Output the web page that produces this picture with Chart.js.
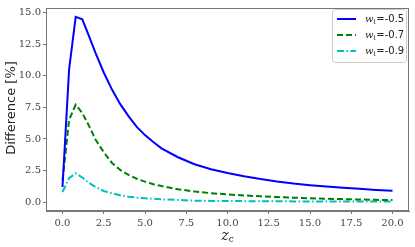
<!DOCTYPE html>
<html><head><meta charset="utf-8">
<script src="https://cdn.jsdelivr.net/npm/chart.js@4/dist/chart.umd.min.js"></script>
<style>html,body{margin:0;padding:0;background:#fff}canvas{display:block}</style>
</head><body>
<canvas id="c" width="415" height="247"></canvas>
<script>
const zc = [0,0.4,0.8,1.2,1.6,2,2.5,3,3.5,4,4.5,5,5.5,6,7,8,9,10,11,12,13,14,15,16,17,18,19,20];
const diffW05 = [1.2,10.5,14.65,14.45,13.15,11.8,10.25,8.9,7.75,6.8,5.95,5.3,4.75,4.25,3.55,3.0,2.6,2.3,2.05,1.83,1.63,1.47,1.34,1.23,1.13,1.05,0.97,0.91];
const diffW07 = [1.7,6.5,7.7,7.05,6.05,4.95,3.95,3.1,2.55,2.15,1.85,1.62,1.42,1.27,1.02,0.84,0.71,0.61,0.53,0.46,0.4,0.35,0.31,0.27,0.24,0.21,0.18,0.16];
const diffW09 = [0.8,1.9,2.28,1.95,1.52,1.2,0.88,0.7,0.55,0.43,0.36,0.31,0.27,0.22,0.17,0.12,0.1,0.09,0.08,0.07,0.065,0.06,0.06,0.055,0.055,0.05,0.05,0.05];
const seriesLabels = ["-0.5","-0.7","-0.9"];
const xTicks = [0,2.5,5,7.5,10,12.5,15,17.5,20];
const yTicks = [0,2.5,5,7.5,10,12.5,15];

const pts = v => zc.map((x,i)=>({x:x,y:v[i]}));
const datasets = [
  {label:seriesLabels[0], data:pts(diffW05), borderColor:'#0000ff', borderWidth:2, borderDash:[]},
  {label:seriesLabels[1], data:pts(diffW07), borderColor:'#008000', borderWidth:2, borderDash:[6,3]},
  {label:seriesLabels[2], data:pts(diffW09), borderColor:'#00bfbf', borderWidth:2, borderDash:[7,2.5,1.5,2.5]}
].map(d=>Object.assign(d,{pointRadius:0, fill:false, tension:0, borderJoinStyle:'miter'}));

const deco = {
  id:'deco',
  afterDraw(chart){
    const ctx = chart.ctx, a = chart.chartArea;
    ctx.save();
    ctx.strokeStyle = '#777'; ctx.lineWidth = 1;
    ctx.strokeRect(a.left+0.5, a.top+0.5, a.right-a.left-1, a.bottom-a.top-1);
    // legend
    const lx=332.5, ly=9.5, lw=74, lh=53;
    ctx.beginPath();
    const r=3;
    ctx.moveTo(lx+r,ly); ctx.lineTo(lx+lw-r,ly); ctx.quadraticCurveTo(lx+lw,ly,lx+lw,ly+r);
    ctx.lineTo(lx+lw,ly+lh-r); ctx.quadraticCurveTo(lx+lw,ly+lh,lx+lw-r,ly+lh);
    ctx.lineTo(lx+r,ly+lh); ctx.quadraticCurveTo(lx,ly+lh,lx,ly+lh-r);
    ctx.lineTo(lx,ly+r); ctx.quadraticCurveTo(lx,ly,lx+r,ly); ctx.closePath();
    ctx.fillStyle='rgba(255,255,255,0.85)'; ctx.fill();
    ctx.strokeStyle='#cccccc'; ctx.stroke();
    const rows=[19,35,51];
    chart.data.datasets.forEach((d,i)=>{
      const y=rows[i];
      ctx.beginPath(); ctx.setLineDash(d.borderDash); ctx.strokeStyle=d.borderColor; ctx.lineWidth=2;
      ctx.moveTo(337,y); ctx.lineTo(356,y); ctx.stroke(); ctx.setLineDash([]);
      ctx.fillStyle='#222'; ctx.textBaseline='middle'; ctx.textAlign='left';
      ctx.font='italic 10px "DejaVu Serif"';
      ctx.fillText('w',365,y);
      let x=365+ctx.measureText('w').width;
      ctx.font='7px "DejaVu Serif"';
      ctx.fillText('i',x,y+3);
      x+=ctx.measureText('i').width+0.5;
      ctx.font='10px "DejaVu Sans"';
      ctx.fillText('=',x,y);
      x+=ctx.measureText('=').width;
      ctx.fillText(d.label,x,y);
    });
    // y title
    ctx.translate(12,108); ctx.rotate(-Math.PI/2);
    ctx.fillStyle='#222'; ctx.textBaseline='middle';
    ctx.font='13px "DejaVu Sans"';
    const t1='Difference ', t2='[%]';
    const w1=ctx.measureText(t1).width;
    ctx.font='13px "DejaVu Serif"';
    const w2=ctx.measureText(t2).width;
    let sx=-(w1+w2)/2;
    ctx.font='13px "DejaVu Sans"'; ctx.textAlign='left';
    ctx.fillText(t1,sx,0);
    ctx.font='13px "DejaVu Serif"';
    ctx.fillText(t2,sx+w1,0);
    ctx.setTransform(1,0,0,1,0,0);
    // x title
    const cx=(a.left+a.right)/2;
    ctx.font='italic 14px "DejaVu Serif"'; ctx.textAlign='left';
    const wz=ctx.measureText('z').width;
    ctx.font='9px "DejaVu Serif"';
    const wc=ctx.measureText('c').width;
    let zx=cx-(wz+wc)/2;
    ctx.font='italic 14px "DejaVu Serif"';
    ctx.fillText('z',zx,236);
    ctx.font='9px "DejaVu Serif"';
    ctx.fillText('c',zx+wz,240);
    ctx.restore();
  }
};

const tickFont = {family:'"DejaVu Serif"', size:10};
new Chart(document.getElementById('c'), {
  type:'line',
  data:{datasets:datasets},
  options:{
    responsive:false, animation:false,
    layout:{padding:{top:4,right:6,left:0,bottom:0}},
    plugins:{legend:{display:false}, tooltip:{enabled:false}},
    scales:{
      x:{type:'linear', min:-1, max:21,
        afterBuildTicks:s=>{s.ticks=xTicks.map(v=>({value:v}));},
        afterFit:s=>{s.height=36;},
        ticks:{font:tickFont, color:'#444', padding:3, maxRotation:0, callback:v=>v.toFixed(1)},
        grid:{drawOnChartArea:false, tickLength:3, color:'#777'},
        border:{color:'#777'}},
      y:{type:'linear', min:-0.7, max:15.35,
        afterBuildTicks:s=>{s.ticks=yTicks.map(v=>({value:v}));},
        afterFit:s=>{s.width=46;},
        ticks:{font:tickFont, color:'#444', padding:2, callback:v=>v.toFixed(1)},
        grid:{drawOnChartArea:false, tickLength:3, color:'#777'},
        border:{color:'#777'}}
    }
  },
  plugins:[deco]
});
</script>
</body></html>
